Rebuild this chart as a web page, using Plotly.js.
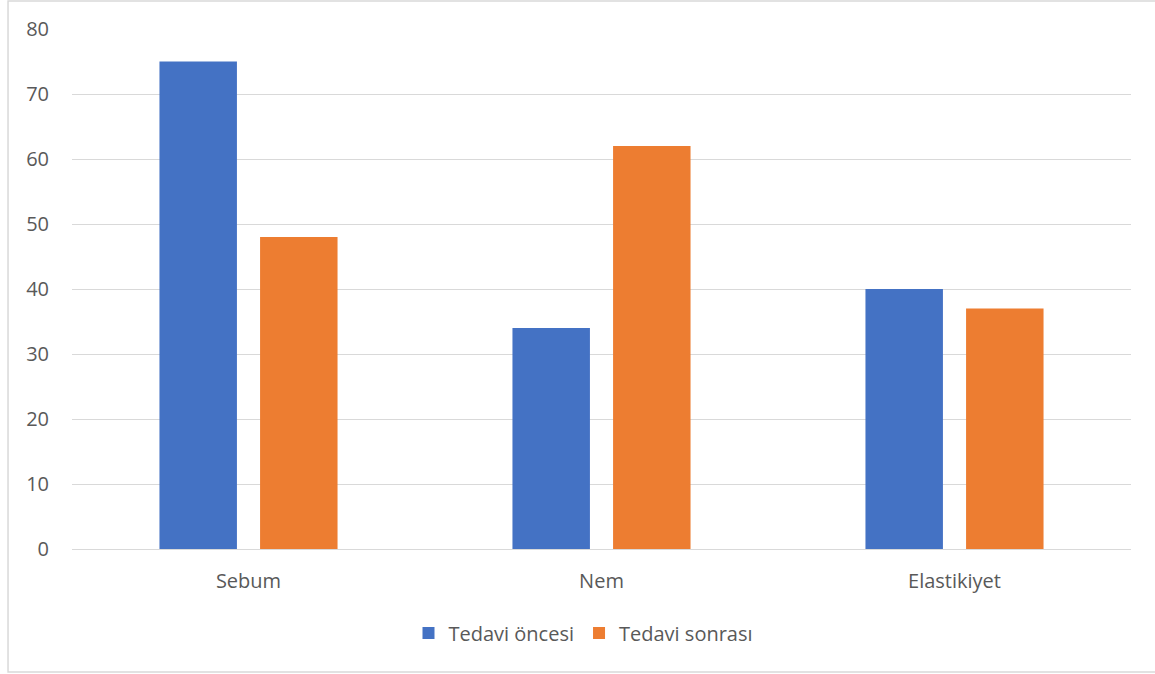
<!DOCTYPE html>
<html>
<head>
<meta charset="utf-8">
<script src="https://cdn.plot.ly/plotly-3.0.1.min.js"></script>
<style>html,body{margin:0;padding:0;background:#fff;}#chart{width:1155px;height:674px;}</style>
</head>
<body>
<div id="chart"></div>
<script>
const categories = ["Sebum", "Nem", "Elastikiyet"];
const seriesNames = ["Tedavi öncesi", "Tedavi sonrası"];
const before = [75, 34, 40];
const after = [48, 62, 37];
const colors = ["#4472C4", "#ED7D31"];

const traces = [
  {type: "bar", name: seriesNames[0], x: categories, y: before, marker: {color: colors[0]}, hoverinfo: "y"},
  {type: "bar", name: seriesNames[1], x: categories, y: after, marker: {color: colors[1]}, hoverinfo: "y"}
];

const fam = "'Open Sans', 'Noto Sans', sans-serif";
const font = {family: fam, size: 20, color: "#595959"};

const layout = {
  width: 1155, height: 674,
  margin: {l: 72, r: 24, t: 29, b: 125},
  paper_bgcolor: "#fff", plot_bgcolor: "#fff",
  font: font,
  barmode: "group",
  bargap: 0.43,
  bargroupgap: 0.23,
  showlegend: true,
  legend: {orientation: "h", x: 0.483, xanchor: "center", y: -0.1615, yanchor: "middle",
           font: {family: fam, size: 20, color: "#595959"}, itemwidth: 30, traceorder: "normal"},
  xaxis: {type: "category", showgrid: false, showline: true, linecolor: "#d9d9d9", linewidth: 1,
          ticks: "", ticklabelstandoff: 14, tickfont: font, zeroline: false},
  yaxis: {range: [0, 80], dtick: 10, tick0: 0, showgrid: true, gridcolor: "#d9d9d9", gridwidth: 1,
          zeroline: true, zerolinecolor: "#d9d9d9", zerolinewidth: 1, showline: false, ticks: "",
          ticklabelstandoff: 22, tickfont: {family: fam, size: 20, color: "#595959"}, fixedrange: true},
  shapes: [
    {type: "rect", xref: "paper", yref: "paper", x0: -0.0604, x1: 1.1, y0: -0.2365, y1: 1.054,
     line: {color: "#d9d9d9", width: 1.5}, fillcolor: "rgba(0,0,0,0)", layer: "below"}
  ]
};

Plotly.newPlot("chart", traces, layout, {displayModeBar: false, staticPlot: true});
</script>
</body>
</html>
